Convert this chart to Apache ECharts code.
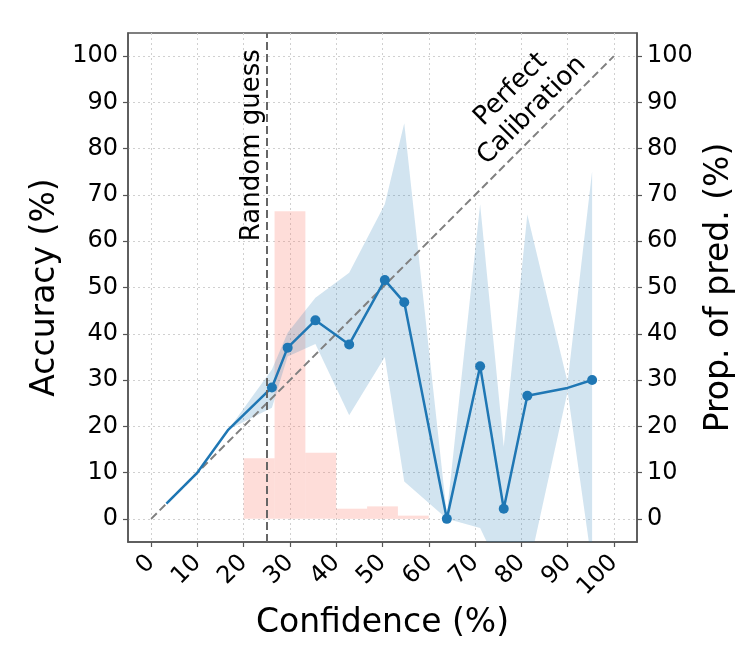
<!DOCTYPE html>
<html>
<head>
    <title>Calibration plot</title>
    <script src="https://cdn.jsdelivr.net/npm/echarts/dist/echarts.min.js"></script>
    <style>
        html, body { margin: 0; padding: 0; background: #fff; }
        #chart { width: 747px; height: 654px; }
    </style>
</head>
<body>
    <div id="chart"></div>
    <script type="text/javascript">
        // reliability curve (mean confidence per bin, accuracy, interval)
        var conf    = [3.3, 10.0, 16.7, 26.1, 29.5, 35.5, 42.8, 50.5, 54.7, 63.9, 71.1, 76.2, 81.3, 90.0, 95.3];
        var acc     = [3.3, 10.0, 19.3, 28.4, 37.0, 42.9, 37.7, 51.6, 46.8, 0.0, 33.0, 2.2, 26.6, 28.3, 30.0];
        var accLow  = [3.3, 10.0, 19.3, 24.0, 35.1, 37.8, 22.4, 35.0, 8.1, 0.0, -2.0, -12.6, -12.1, 27.5, -10.0];
        var accHigh = [3.3, 10.0, 19.3, 32.3, 40.2, 47.8, 53.2, 68.0, 85.5, 1.0, 68.0, 15.6, 65.8, 29.5, 75.1];
        var hasMarker = [false, false, false, true, true, true, true, true, true, true, true, true, true, false, true];

        // histogram of predictions (proportion per confidence bin)
        var binLo = [20, 26.67, 33.33, 40, 46.67, 53.33];
        var binHi = [26.67, 33.33, 40, 46.67, 53.33, 60];
        var prop  = [13.1, 66.5, 14.3, 2.2, 2.7, 0.7];

        var tickValues = [0, 10, 20, 30, 40, 50, 60, 70, 80, 90, 100];
        var diagonal = [[0, 0], [100, 100]];
        var randomGuess = 25;

        var font = 'DejaVu Sans';
        var axisColor = '#555';

        // plot box spans -5..105 on both axes; the labelled axes live on a
        // slightly larger grid (-10..110) pulled back onto the box edges
        var box = { left: 128, top: 33, size: 509 };
        var pad = box.size * 5 / 110;

        function frameAxis(extra) {
            var base = {
                type: 'value',
                min: -5,
                max: 105,
                axisLine: { show: true, onZero: false, lineStyle: { color: axisColor, width: 1.5 } },
                axisTick: { show: false, customValues: tickValues },
                axisLabel: { show: false, customValues: tickValues },
                splitLine: { show: true, lineStyle: { color: '#d0d0d0', type: [2, 3], width: 1 } }
            };
            for (var k in extra) base[k] = extra[k];
            return base;
        }

        function tickLabel(v) {
            return v < 0 || v > 100 ? '' : String(v);
        }

        function tickAxis(extra) {
            var base = {
                type: 'value',
                gridIndex: 1,
                min: -10,
                max: 110,
                interval: 10,
                offset: -pad,
                nameLocation: 'middle',
                nameGap: 50,
                nameMoveOverlap: false,
                nameTextStyle: { fontFamily: font, fontSize: 33, color: '#000' },
                axisLine: { show: false, onZero: false },
                axisTick: { show: true, length: 5, customValues: tickValues, lineStyle: { color: axisColor, width: 1.2 } },
                axisLabel: {
                    showMinLabel: false, showMaxLabel: false, hideOverlap: false, formatter: tickLabel,
                    fontFamily: font, fontSize: 24, color: '#000', margin: 10
                },
                splitLine: { show: false }
            };
            for (var k in extra) base[k] = extra[k];
            return base;
        }

        var chart = echarts.init(document.getElementById('chart'));

        var option = {
            animation: false,
            grid: [
                {
                    left: box.left, top: box.top, width: box.size, height: box.size,
                    outerBoundsMode: 'none', containLabel: false,
                    show: true, borderColor: axisColor, borderWidth: 1.5
                },
                {
                    left: box.left - pad, top: box.top - pad, width: box.size + 2 * pad, height: box.size + 2 * pad,
                    outerBoundsMode: 'none', containLabel: false
                }
            ],
            xAxis: [
                frameAxis({ gridIndex: 0 }),
                tickAxis({
                    name: 'Confidence (%)',
                    nameGap: 49,
                    position: 'bottom',
                    axisLabel: {
                        showMinLabel: false, showMaxLabel: false, hideOverlap: false, formatter: tickLabel,
                        fontFamily: font, fontSize: 24, color: '#000', margin: 17, rotate: 45
                    }
                })
            ],
            yAxis: [
                frameAxis({ gridIndex: 0, position: 'left' }),
                frameAxis({ gridIndex: 0, position: 'right', splitLine: { show: false } }),
                tickAxis({ name: 'Accuracy (%)', nameRotate: 90, position: 'left' }),
                tickAxis({ name: 'Prop. of pred. (%)', nameRotate: 90, position: 'right' })
            ],
            series: [
                {
                    name: 'Proportion',
                    type: 'custom',
                    xAxisIndex: 0,
                    yAxisIndex: 1,
                    z: 1,
                    data: binLo.map(function (lo, i) { return [lo, binHi[i], prop[i]]; }),
                    renderItem: function (params, api) {
                        var p0 = api.coord([api.value(0), api.value(2)]);
                        var p1 = api.coord([api.value(1), 0]);
                        return {
                            type: 'rect',
                            shape: { x: p0[0], y: p0[1], width: p1[0] - p0[0], height: p1[1] - p0[1] },
                            style: { fill: 'rgba(250,128,114,0.27)' }
                        };
                    }
                },
                {
                    name: 'Interval',
                    type: 'custom',
                    xAxisIndex: 0,
                    yAxisIndex: 0,
                    z: 2,
                    clip: true,
                    data: conf.map(function (c, i) { return [c, accLow[i], accHigh[i]]; }),
                    renderItem: function (params, api) {
                        if (params.dataIndex !== 0) return;
                        var pts = [];
                        for (var i = 0; i < conf.length; i++) pts.push(api.coord([conf[i], accHigh[i]]));
                        for (var j = conf.length - 1; j >= 0; j--) pts.push(api.coord([conf[j], accLow[j]]));
                        return { type: 'polygon', shape: { points: pts }, style: { fill: 'rgba(31,119,180,0.2)' } };
                    }
                },
                {
                    name: 'Perfect',
                    type: 'line',
                    xAxisIndex: 0,
                    yAxisIndex: 0,
                    z: 3,
                    data: diagonal,
                    symbol: 'none',
                    lineStyle: { color: '#808080', width: 2, type: [8, 4] },
                    markLine: {
                        silent: true,
                        symbol: 'none',
                        label: { show: false },
                        lineStyle: { color: '#666', width: 2, type: [8, 4] },
                        data: [{ xAxis: randomGuess }]
                    }
                },
                {
                    name: 'Accuracy',
                    type: 'line',
                    xAxisIndex: 0,
                    yAxisIndex: 0,
                    z: 4,
                    data: conf.map(function (c, i) {
                        return { value: [c, acc[i]], symbol: hasMarker[i] ? 'circle' : 'none' };
                    }),
                    symbolSize: 10,
                    itemStyle: { color: '#1f77b4' },
                    lineStyle: { color: '#1f77b4', width: 2.5 }
                }
            ]
        };

        chart.setOption(option);

        // annotations placed in data coordinates
        var rg = chart.convertToPixel({ gridIndex: 0 }, [randomGuess, 101.5]);
        var pc = chart.convertToPixel({ gridIndex: 0 }, [80, 90.5]);
        chart.setOption({
            graphic: [
                {
                    type: 'text',
                    x: rg[0] + 11,
                    y: rg[1],
                    rotation: Math.PI / 2,
                    z: 10,
                    style: {
                        text: 'Random guess',
                        fontFamily: font,
                        fontSize: 26,
                        fill: '#000',
                        align: 'right',
                        verticalAlign: 'bottom'
                    }
                },
                {
                    type: 'text',
                    x: pc[0],
                    y: pc[1],
                    rotation: Math.PI / 4,
                    z: 10,
                    style: {
                        text: 'Perfect\nCalibration',
                        fontFamily: font,
                        fontSize: 26,
                        lineHeight: 30,
                        fill: '#000',
                        align: 'center',
                        verticalAlign: 'middle'
                    }
                }
            ]
        });
    </script>
</body>
</html>
